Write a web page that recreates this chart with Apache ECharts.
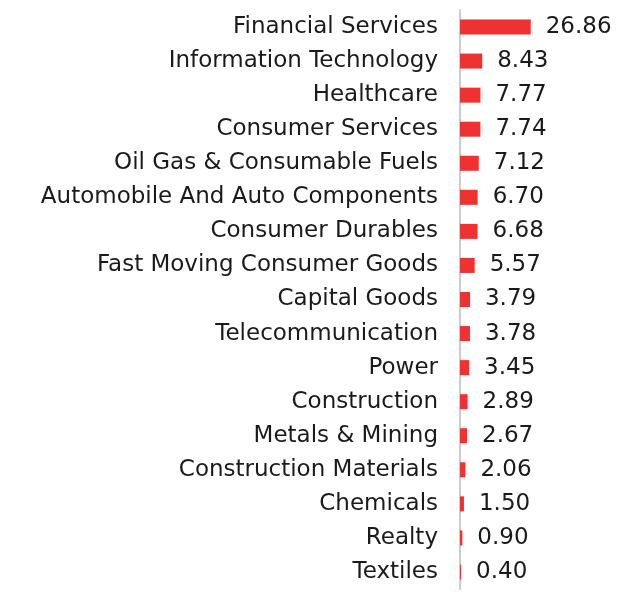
<!DOCTYPE html>
<html><head><meta charset="utf-8">
<script src="https://cdn.jsdelivr.net/npm/echarts@6/dist/echarts.min.js"></script>
<style>html,body{margin:0;padding:0;background:#fff}#c{width:640px;height:595px}</style>
</head><body><div id="c"></div>
<script>
const categories = ["Financial Services","Information Technology","Healthcare","Consumer Services","Oil Gas & Consumable Fuels","Automobile And Auto Components","Consumer Durables","Fast Moving Consumer Goods","Capital Goods","Telecommunication","Power","Construction","Metals & Mining","Construction Materials","Chemicals","Realty","Textiles"];
const values = [26.86,8.43,7.77,7.74,7.12,6.70,6.68,5.57,3.79,3.78,3.45,2.89,2.67,2.06,1.50,0.90,0.40];

const chart = echarts.init(document.getElementById('c'));
chart.setOption({
  animation:false,
  grid:{left:460,top:10,width:158,height:579,containLabel:false},
  xAxis:{type:'value',min:0,max:60,show:false},
  yAxis:{type:'category',data:categories,inverse:true,
    axisLine:{show:true,lineStyle:{color:'#cccccc',width:2}},
    axisTick:{show:false},
    axisLabel:{fontFamily:'DejaVu Sans',fontSize:23,color:'#1a1a1a',margin:22}},
  series:[{type:'bar',data:values,barWidth:15,itemStyle:{color:'#ee3131'},
    label:{show:true,position:'right',distance:15,fontFamily:'DejaVu Sans',fontSize:23,color:'#1a1a1a',
      formatter:p=>p.value.toFixed(2)}}]
});
</script></body></html>
